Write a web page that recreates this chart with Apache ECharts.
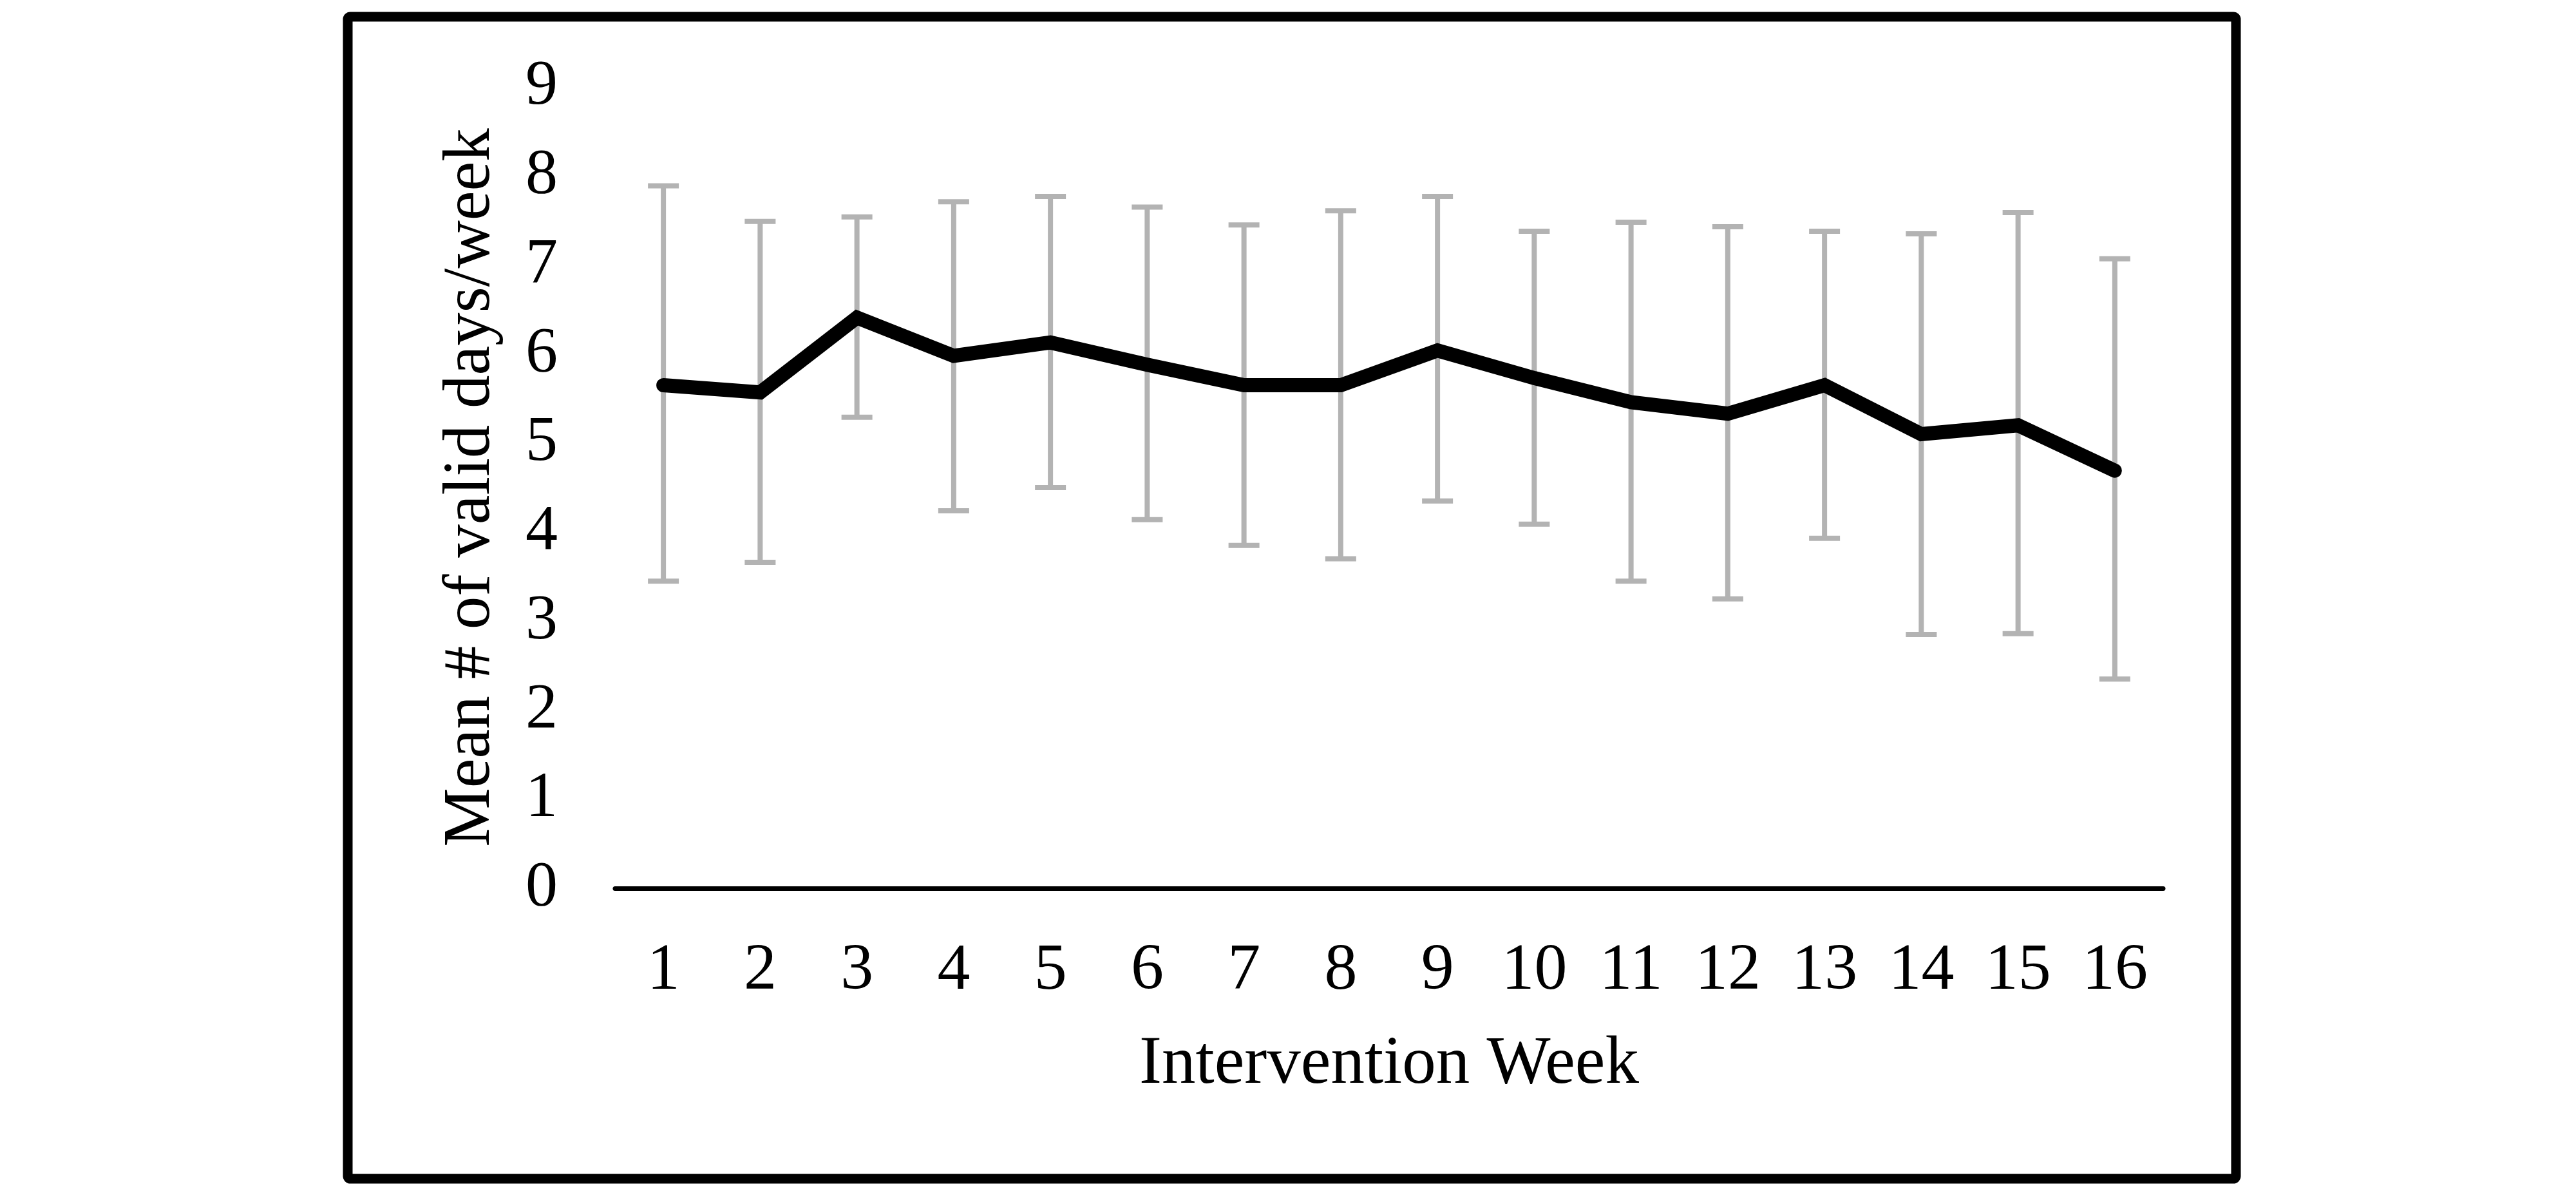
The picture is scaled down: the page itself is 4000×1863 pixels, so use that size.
<!DOCTYPE html>
<html>
<head>
<meta charset="utf-8">
<script src="https://cdn.jsdelivr.net/npm/echarts@6/dist/echarts.min.js"></script>
<style>
html,body{margin:0;padding:0;background:#fff;}
#chart{width:4000px;height:1863px;}
</style>
</head>
<body>
<div id="chart"></div>
<script>
const weeks = ['1','2','3','4','5','6','7','8','9','10','11','12','13','14','15','16'];
const meanDays = [5.65, 5.57, 6.41, 5.98, 6.13, 5.88, 5.65, 5.65, 6.04, 5.73, 5.46, 5.33, 5.65, 5.10, 5.20, 4.69];
const upperBar = [7.89, 7.49, 7.54, 7.71, 7.77, 7.65, 7.45, 7.61, 7.77, 7.38, 7.48, 7.43, 7.38, 7.35, 7.59, 7.07];
const lowerBar = [3.45, 3.66, 5.29, 4.24, 4.50, 4.14, 3.85, 3.70, 4.35, 4.09, 3.45, 3.25, 3.93, 2.85, 2.86, 2.35];
const yTicks = [0, 9, 1];

const FONT = '"Liberation Serif", "Times New Roman", serif';
const chart = echarts.init(document.getElementById('chart'), null, {renderer: 'canvas'});

const errData = weeks.map((w, i) => [i, lowerBar[i], upperBar[i]]);

chart.setOption({
  backgroundColor: '#ffffff',
  animation: false,
  graphic: [{
    type: 'rect',
    shape: {x: 540, y: 26, width: 2932, height: 1804, r: 4},
    style: {fill: 'none', stroke: '#000', lineWidth: 15},
    z: 100
  }],
  grid: {left: 955, right: 641, top: 135, bottom: 484, containLabel: false},
  xAxis: {
    type: 'category',
    data: weeks,
    boundaryGap: true,
    name: 'Intervention Week',
    nameLocation: 'middle',
    nameGap: 222,
    nameTextStyle: {fontFamily: FONT, fontSize: 105, color: '#000'},
    axisLine: {show: true, lineStyle: {color: '#000', width: 7}},
    axisTick: {show: false},
    axisLabel: {fontFamily: FONT, fontSize: 102, color: '#000', margin: 78},
    splitLine: {show: false}
  },
  yAxis: {
    type: 'value',
    min: yTicks[0],
    max: yTicks[1],
    interval: yTicks[2],
    name: 'Mean # of valid days/week',
    nameLocation: 'middle',
    nameGap: 172,
    nameTextStyle: {fontFamily: FONT, fontSize: 103, color: '#000'},
    axisLine: {show: false},
    axisTick: {show: false},
    axisLabel: {fontFamily: FONT, fontSize: 100, color: '#000', margin: 89},
    splitLine: {show: false}
  },
  series: [
    {
      type: 'custom',
      z: 1,
      data: errData,
      renderItem: function (params, api) {
        const idx = api.value(0);
        const lo = api.coord([idx, api.value(1)]);
        const hi = api.coord([idx, api.value(2)]);
        const hw = 24;
        const st = {stroke: '#b3b3b3', lineWidth: 8, fill: 'none'};
        return {
          type: 'group',
          children: [
            {type: 'line', shape: {x1: lo[0], y1: lo[1], x2: hi[0], y2: hi[1]}, style: st},
            {type: 'line', shape: {x1: lo[0] - hw, y1: lo[1], x2: lo[0] + hw, y2: lo[1]}, style: st},
            {type: 'line', shape: {x1: hi[0] - hw, y1: hi[1], x2: hi[0] + hw, y2: hi[1]}, style: st}
          ]
        };
      }
    },
    {
      type: 'line',
      z: 5,
      data: meanDays,
      symbol: 'none',
      lineStyle: {color: '#000', width: 22, cap: 'round', join: 'miter'}
    }
  ]
});
</script>
</body>
</html>
